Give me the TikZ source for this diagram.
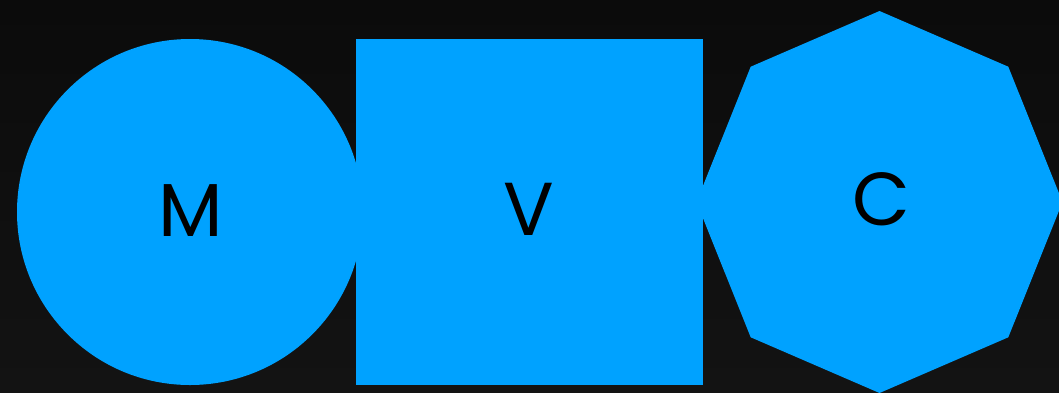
\documentclass[tikz,border=0pt]{standalone}
\usepackage{fontspec}
\setmainfont{Poppins}
\definecolor{shapeblue}{HTML}{00A2FF}
\definecolor{bgtop}{HTML}{0B0B0B}
\definecolor{bgbot}{HTML}{131313}
\begin{document}
\begin{tikzpicture}[x=1pt,y=-1pt,
  shapefill/.style={fill=shapeblue, draw=none},
  letter/.style={anchor=base, inner sep=0pt, text=black, font=\fontsize{75}{75}\selectfont}]
  \useasboundingbox (0,0) rectangle (1059,392);
  \shade[top color=bgtop, bottom color=bgbot] (0,0) rectangle (1059,392);
  % octagon (C)
  \fill[shapefill] (879.5,11) -- (1008.3,66.7) -- (1062.5,202) -- (1008.3,337.3)
    -- (879.5,393) -- (750.7,337.3) -- (696.5,202) -- (750.7,66.7) -- cycle;
  % square (V)
  \fill[shapefill] (356,39) rectangle (703,385);
  % circle (M)
  \fill[shapefill] (190,212) circle[radius=173];
  \node[letter] (m) at (190.5,236) {M};
  \node[letter] (v) at (529,235.5) {V};
  \node[letter] (c) at (881,225) {C};
\end{tikzpicture}
\end{document}
